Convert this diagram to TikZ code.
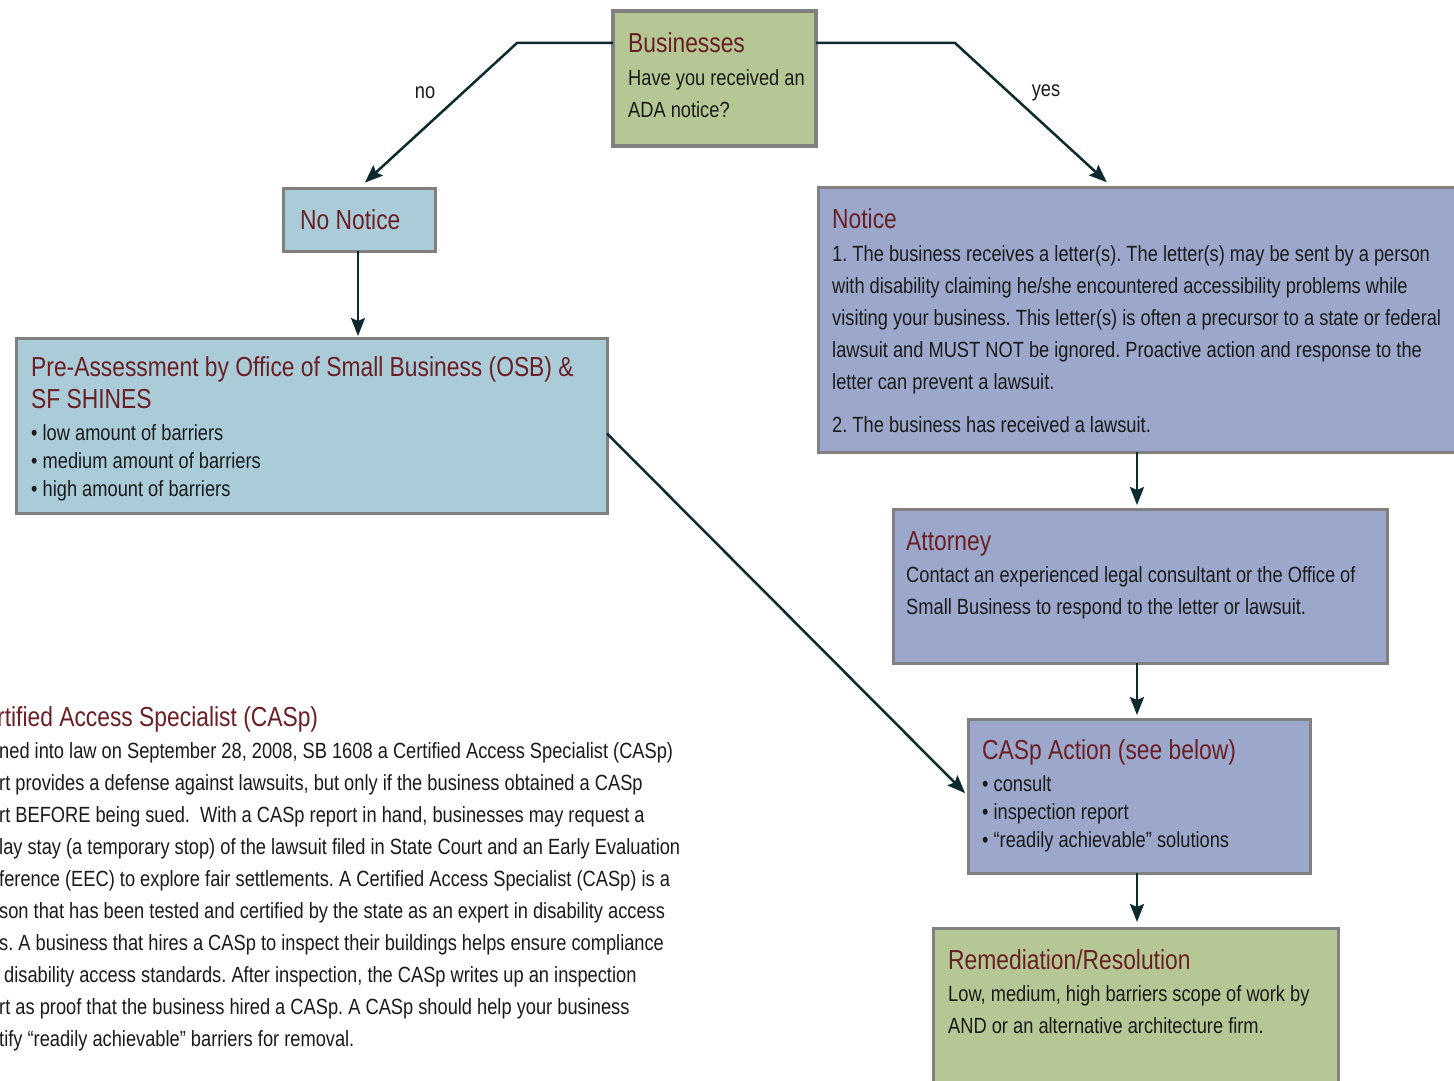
\documentclass[tikz,border=0pt]{standalone}
\usepackage{fontspec}
\setmainfont{Liberation Sans}[FakeStretch=0.83]
\usetikzlibrary{arrows.meta}
\definecolor{gfill}{HTML}{B5C795}
\definecolor{bfill}{HTML}{AACCD9}
\definecolor{pfill}{HTML}{9BA8CB}
\definecolor{bordc}{HTML}{808080}
\definecolor{titc}{HTML}{6B1F24}
\definecolor{txtc}{HTML}{1A1A1A}
\definecolor{arrc}{HTML}{0D2B2E}
\tikzset{
  box/.style={draw=bordc, line width=3pt, inner sep=0pt, outer sep=0pt},
  ttl/.style={anchor=base west, inner sep=0pt, text=titc, font=\fontsize{27.5}{32}\selectfont},
  bdy/.style={anchor=north west, inner sep=0pt, text=txtc, align=left, font=\fontsize{22}{32}\selectfont},
  blist/.style={bdy, font=\fontsize{22}{28}\selectfont},
  lbl/.style={inner sep=0pt, text=txtc, font=\fontsize{22}{26}\selectfont},
  arr/.style={draw=arrc, line width=2.5pt, -{Stealth[length=18pt,width=14pt,inset=3pt]}}
}
\newcommand{\fs}{\rule{0pt}{24pt}}
\frenchspacing
\begin{document}
\frenchspacing
\begin{tikzpicture}[x=1pt,y=-1pt]
\useasboundingbox (0,0) rectangle (1454,1081);
\clip (0,0) rectangle (1454,1081);

% boxes
\node[box, fill=gfill, line width=4pt, minimum width=203pt, minimum height=135pt] (biz) at (714.5,78.5) {};
\node[box, fill=bfill, minimum width=152pt, minimum height=63pt] (nonotice) at (359,219.5) {};
\node[box, fill=bfill, minimum width=591pt, minimum height=175pt] (preas) at (311.5,425.5) {};
\node[box, fill=pfill, minimum width=652pt, minimum height=265pt] (notice) at (1144,319.5) {};
\node[box, fill=pfill, minimum width=494pt, minimum height=154pt] (attorney) at (1140,586) {};
\node[box, fill=pfill, minimum width=342pt, minimum height=154pt] (casp) at (1139,796) {};
\node[box, fill=gfill, minimum width=405pt, minimum height=167pt] (remed) at (1135.5,1011.5) {};

% texts
\node[ttl] (bizt) at (628,53) {Businesses};
\node[bdy] (bizb) at (628,61) {\fs Have you received an\\ADA notice?};

\node[ttl] (nont) at (300,229) {No Notice};

\node[ttl] (preat1) at (31,376) {Pre-Assessment by Office of Small Business (OSB) \&};
\node[ttl] (preat2) at (31,408) {SF SHINES};
\node[blist] (preab) at (31,416) {\fs • low amount of barriers\\• medium amount of barriers\\• high amount of barriers};

\node[ttl] (nott) at (832,228) {Notice};
\node[bdy] (notb) at (832,237) {\fs 1. The business receives a letter(s). The letter(s) may be sent by a person\\
with disability claiming he/she encountered accessibility problems while\\
visiting your business. This letter(s) is often a precursor to a state or federal\\
lawsuit and MUST NOT be ignored. Proactive action and response to the\\
letter can prevent a lawsuit.\\[11pt]
2. The business has received a lawsuit.};

\node[ttl] (attt) at (906,550) {Attorney};
\node[bdy] (attb) at (906,558) {\fs Contact an experienced legal consultant or the Office of\\Small Business to respond to the letter or lawsuit.};

\node[ttl] (caspt) at (982,759) {CASp Action (see below)};
\node[blist] (caspb) at (982,767) {\fs • consult\\• inspection report\\• “readily achievable” solutions};

\node[ttl] (remt) at (948,969) {Remediation/Resolution};
\node[bdy] (remb) at (948,977) {\fs Low, medium, high barriers scope of work by\\AND or an alternative architecture firm.};

\node[ttl] (leftt) at (-3,726) {rtified Access Specialist (CASp)};
\node[bdy] (leftb) at (-1,734) {\fs ned into law on September 28, 2008, SB 1608 a Certified Access Specialist (CASp)\\
rt provides a defense against lawsuits, but only if the business obtained a CASp\\
rt BEFORE being sued.\ \ With a CASp report in hand, businesses may request a\\
lay stay (a temporary stop) of the lawsuit filed in State Court and an Early Evaluation\\
ference (EEC) to explore fair settlements. A Certified Access Specialist (CASp) is a\\
son that has been tested and certified by the state as an expert in disability access\\
s. A business that hires a CASp to inspect their buildings helps ensure compliance\\
\hspace*{5pt}disability access standards. After inspection, the CASp writes up an inspection\\
rt as proof that the business hired a CASp. A CASp should help your business\\
tify “readily achievable” barriers for removal.};

% connectors
\draw[arr, shorten >=8pt] (biz.north west |- 0,43) -- (517,43) -- (nonotice.north);
\draw[arr, shorten >=7pt] (biz.north east |- 0,43) -- (955,43) -- (notice.north -| 1112,0);
\node[lbl] (nolbl) at (425,93) {no};
\node[lbl] (yeslbl) at (1046,93) {yes};
\draw[arr, shorten >=2pt] (nonotice.south -| 358,0) -- (preas.north -| 358,0);
\draw[arr, shorten >=4pt] ([yshift=-8pt]preas.east) -- (casp.west);
\draw[arr, shorten >=4pt] (notice.south -| 1137,0) -- (attorney.north -| 1137,0);
\draw[arr, shorten >=4pt] (attorney.south -| 1137,0) -- (casp.north -| 1137,0);
\draw[arr, shorten >=6pt] (casp.south -| 1137,0) -- (remed.north -| 1137,0);
\end{tikzpicture}
\end{document}
